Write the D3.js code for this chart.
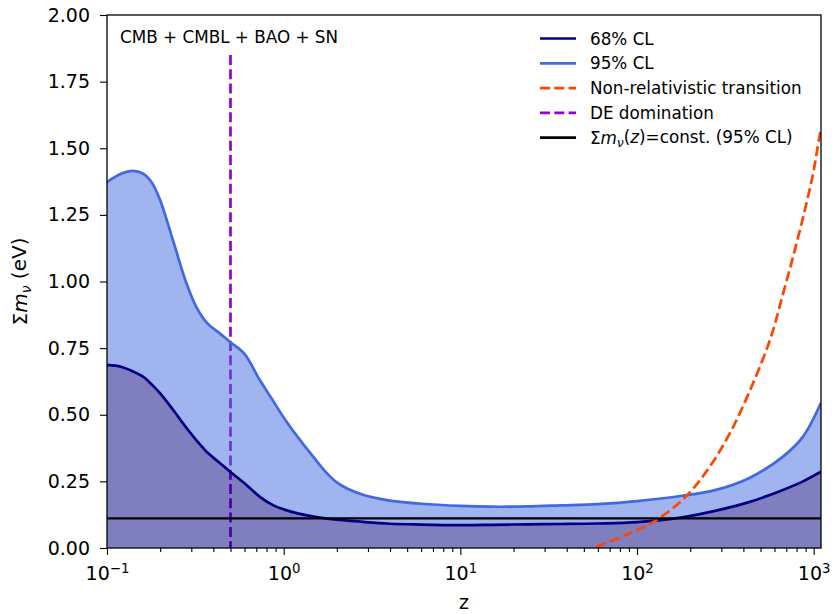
<!DOCTYPE html>
<html>
<head>
<meta charset="utf-8">
<script src="https://cdn.jsdelivr.net/npm/d3@7"></script>
<style>
  body { margin: 0; background: #fff; }
  text { font-family: "DejaVu Sans", sans-serif; fill: #000; }
</style>
</head>
<body>
<svg id="chart" width="833" height="614"></svg>
<script>
// Data
const zGrid = [0.1, 0.12, 0.14, 0.16, 0.18, 0.2, 0.24, 0.28, 0.32, 0.37, 0.43, 0.5, 0.6, 0.73, 0.87,
  1.0, 1.2, 1.5, 1.75, 2.0, 2.3, 2.9, 4, 6, 10, 15, 24, 37, 60, 100, 180, 280, 430, 670, 870, 1100];
const upper95 = [1.373, 1.404, 1.415, 1.405, 1.370, 1.305, 1.14, 0.998, 0.905, 0.843, 0.808, 0.772, 0.728, 0.632, 0.553,
  0.49, 0.417, 0.335, 0.282, 0.246, 0.222, 0.197, 0.178, 0.166, 0.158, 0.155, 0.156, 0.160, 0.165, 0.176, 0.196, 0.218, 0.262, 0.343, 0.418, 0.545];
const upper68 = [0.687, 0.680, 0.663, 0.643, 0.612, 0.58, 0.513, 0.453, 0.405, 0.358, 0.322, 0.285, 0.243, 0.193, 0.161,
  0.145, 0.130, 0.117, 0.111, 0.106, 0.103, 0.097, 0.091, 0.088, 0.086, 0.087, 0.089, 0.090, 0.092, 0.097, 0.115, 0.140, 0.172, 0.218, 0.250, 0.286];
const nrZ = [59, 87, 129, 191, 258, 335, 435, 565, 672, 782, 891, 993, 1070, 1100];
const nrMass = [0.005, 0.05, 0.105, 0.196, 0.305, 0.43, 0.59, 0.78, 0.956, 1.118, 1.268, 1.406, 1.531, 1.57];
const deZ = 0.5;
const deTop = 1.85;
const constMass = 0.111;
const yTicks = [0, 0.25, 0.5, 0.75, 1.0, 1.25, 1.5, 1.75, 2.0];
const xMajor = [0.1, 1, 10, 100, 1000];
const xMajorExp = ["\u22121", "0", "1", "2", "3"];
const legendLabels = ["68% CL", "95% CL", "Non-relativistic transition", "DE domination", "const"];

// Configuration
const plotLeft = 107, plotRight = 821, plotTop = 15, plotBottom = 548;
const colorNavy = '#000080';
const colorRoyal = '#4169e1';
const colorOrange = '#ff4500';
const colorViolet = '#9400d3';
const smooth = d3.curveCatmullRom.alpha(0.5);

const svg = d3.select('#chart');
const x = d3.scaleLog().domain([0.1, 1100]).range([plotLeft, plotRight]);
const y = d3.scaleLinear().domain([0, 2]).range([plotBottom, plotTop]);

svg.append('clipPath').attr('id', 'plot')
  .append('rect').attr('x', plotLeft).attr('y', plotTop)
  .attr('width', plotRight - plotLeft).attr('height', plotBottom - plotTop);

const g = svg.append('g').attr('clip-path', 'url(#plot)');

const rows = zGrid.map((z, i) => ({ z: z, u95: upper95[i], u68: upper68[i] }));

// DE domination line (under the fills)
g.append('line')
  .attr('x1', x(deZ)).attr('x2', x(deZ))
  .attr('y1', y(deTop)).attr('y2', y(0))
  .attr('stroke', colorViolet).attr('stroke-width', 2.7)
  .attr('stroke-dasharray', '10,4.3');

// fills
const area95 = d3.area().curve(smooth)
  .x(d => x(d.z)).y0(d => y(d.u68)).y1(d => y(d.u95));
const area68 = d3.area().curve(smooth)
  .x(d => x(d.z)).y0(y(0)).y1(d => y(d.u68));

g.append('path').datum(rows).attr('d', area95)
  .attr('fill', colorRoyal).attr('fill-opacity', 0.5);
g.append('path').datum(rows).attr('d', area68)
  .attr('fill', colorNavy).attr('fill-opacity', 0.5);

// curves
const line95 = d3.line().curve(smooth).x(d => x(d.z)).y(d => y(d.u95));
const line68 = d3.line().curve(smooth).x(d => x(d.z)).y(d => y(d.u68));
g.append('path').datum(rows).attr('d', line95)
  .attr('fill', 'none').attr('stroke', colorRoyal).attr('stroke-width', 2.7);
g.append('path').datum(rows).attr('d', line68)
  .attr('fill', 'none').attr('stroke', colorNavy).attr('stroke-width', 2.7);

// non-relativistic transition
const nrLine = d3.line().curve(smooth).x(d => x(d[0])).y(d => y(d[1]));
g.append('path').datum(nrZ.map((z, i) => [z, nrMass[i]])).attr('d', nrLine)
  .attr('fill', 'none').attr('stroke', colorOrange).attr('stroke-width', 2.7)
  .attr('stroke-dasharray', '10,4.3');

// constant line
g.append('line')
  .attr('x1', plotLeft).attr('x2', plotRight)
  .attr('y1', y(constMass)).attr('y2', y(constMass))
  .attr('stroke', '#000').attr('stroke-width', 2.4);

// axes
const xMinor = [];
for (let k = -1; k <= 3; k++) {
  for (let m = 2; m <= 9; m++) {
    const v = m * Math.pow(10, k);
    if (v <= 1100) xMinor.push(v);
  }
}

const xAxisMinor = svg.append('g').attr('transform', `translate(0,${plotBottom})`)
  .call(d3.axisBottom(x).tickValues(xMinor).tickSize(4).tickFormat(''));
const xAxis = svg.append('g').attr('transform', `translate(0,${plotBottom})`)
  .call(d3.axisBottom(x).tickValues(xMajor).tickSize(7).tickFormat(''));
[xAxisMinor, xAxis].forEach(a => {
  a.select('.domain').remove();
  a.selectAll('line').attr('stroke', '#000').attr('stroke-width', 1.1);
});
xAxis.selectAll('.tick').each(function (d, i) {
  const t = d3.select(this).append('text')
    .attr('y', 32).attr('text-anchor', 'middle')
    .style('font-size', '19px');
  t.append('tspan').text('10');
  t.append('tspan').attr('dy', '-0.55em').style('font-size', '13.3px').text(xMajorExp[i]);
});

const yAxis = svg.append('g').attr('transform', `translate(${plotLeft},0)`)
  .call(d3.axisLeft(y).tickValues(yTicks).tickSize(7).tickPadding(10).tickFormat(d3.format('.2f')));
yAxis.select('.domain').remove();
yAxis.selectAll('line').attr('stroke', '#000').attr('stroke-width', 1.1);
yAxis.selectAll('text').style('font-size', '19px').style('font-family', '"DejaVu Sans", sans-serif');

// frame
svg.append('rect').attr('x', plotLeft).attr('y', plotTop)
  .attr('width', plotRight - plotLeft).attr('height', plotBottom - plotTop)
  .attr('fill', 'none').attr('stroke', '#000').attr('stroke-width', 1.3);

// axis labels
svg.append('text').attr('x', (plotLeft + plotRight) / 2).attr('y', 609)
  .attr('text-anchor', 'middle').style('font-size', '19px').text('z');

const yl = svg.append('text')
  .attr('transform', `translate(27,${(plotTop + plotBottom) / 2}) rotate(-90)`)
  .attr('text-anchor', 'middle').style('font-size', '20px');
yl.append('tspan').text('\u03a3');
yl.append('tspan').style('font-style', 'italic').text('m');
yl.append('tspan').attr('dy', '0.25em').style('font-size', '14px').style('font-style', 'italic').text('\u03bd');
yl.append('tspan').attr('dy', '-0.25em').text('\u00a0(eV)');

// annotation
svg.append('text').attr('x', 120).attr('y', 43)
  .style('font-size', '16.8px').text('CMB + CMBL + BAO + SN');

// legend
const legendStyles = [
  { color: colorNavy, dash: null },
  { color: colorRoyal, dash: null },
  { color: colorOrange, dash: '10,4.3' },
  { color: colorViolet, dash: '10,4.3' },
  { color: '#000', dash: null }
];
const legend = svg.append('g');
legendLabels.forEach((lab, i) => {
  const cy = 38.5 + i * 24.8;
  legend.append('line')
    .attr('x1', 540).attr('x2', 576).attr('y1', cy).attr('y2', cy)
    .attr('stroke', legendStyles[i].color).attr('stroke-width', 2.7)
    .attr('stroke-dasharray', legendStyles[i].dash);
  const t = legend.append('text').attr('x', 590).attr('y', cy + 6).style('font-size', '16.8px');
  if (lab === 'const') {
    t.append('tspan').text('\u03a3');
    t.append('tspan').style('font-style', 'italic').text('m');
    t.append('tspan').attr('dy', '0.25em').style('font-size', '12px').style('font-style', 'italic').text('\u03bd');
    t.append('tspan').attr('dy', '-0.25em').text('(');
    t.append('tspan').style('font-style', 'italic').text('z');
    t.append('tspan').text(')=const. (95% CL)');
  } else {
    t.text(lab);
  }
});
</script>
</body>
</html>
